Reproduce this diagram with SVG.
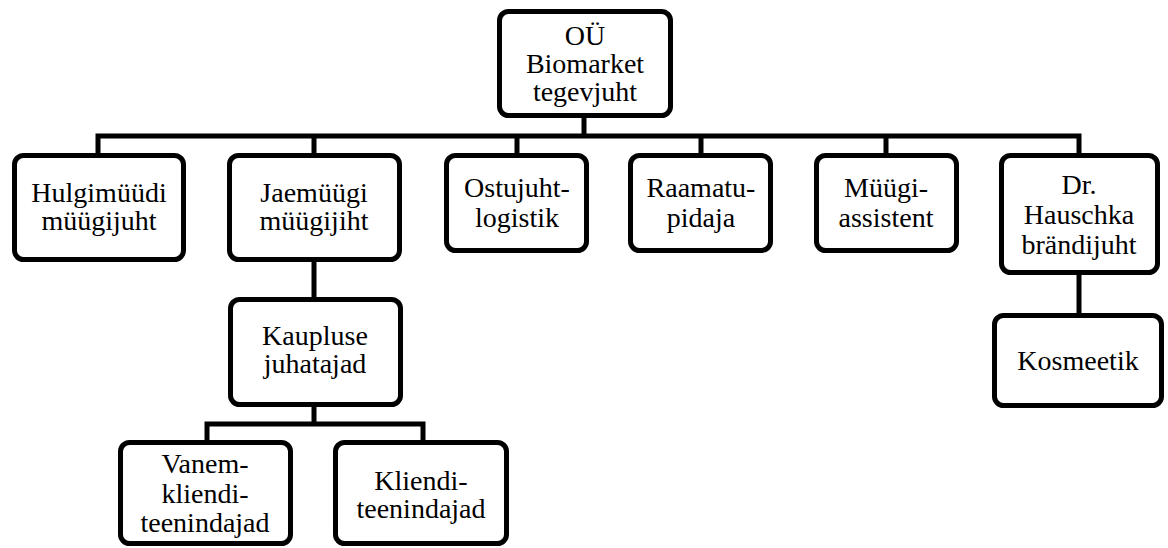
<svg xmlns="http://www.w3.org/2000/svg" width="1168" height="548" viewBox="0 0 1168 548">
<style>
.box{fill:#fff;stroke:#000;stroke-width:5}
.c{fill:none;stroke:#000;stroke-width:5;stroke-linejoin:miter;stroke-linecap:butt}
text{font-size:28px;fill:#000;text-anchor:middle}
</style>
<rect width="1168" height="548" fill="#fff"/>
<g id="connectors">
<path class="c" d="M584 118V136M98 155V136H1079V155M314 136V155M517 136V155M701 136V155M886 136V155"/>
<path class="c" d="M314 262V299"/>
<path class="c" d="M314 407V424M207 442V424H423V442"/>
<path class="c" d="M1079 275V315"/>
</g>
<g font-family="'Liberation Serif', 'Times New Roman', Times, 'DejaVu Serif', serif">
<g id="n-top"><rect class="box" x="499.5" y="11.5" width="171" height="104" rx="9"/>
<text x="585" y="45">OÜ</text><text x="585" y="73">Biomarket</text><text x="585" y="101">tegevjuht</text></g>
<g id="n-hulgi"><rect class="box" x="14.5" y="155.5" width="169" height="104" rx="9"/>
<text x="99" y="202">Hulgimüüdi</text><text x="99" y="230">müügijuht</text></g>
<g id="n-jae"><rect class="box" x="229.5" y="155.5" width="170" height="104" rx="9"/>
<text x="314" y="202">Jaemüügi</text><text x="314" y="230">müügijiht</text></g>
<g id="n-ostu"><rect class="box" x="446.5" y="155.5" width="140" height="95" rx="9"/>
<text x="517" y="197">Ostujuht-</text><text x="517" y="227">logistik</text></g>
<g id="n-raamatu"><rect class="box" x="630.5" y="155.5" width="140" height="95" rx="9"/>
<text x="701" y="197">Raamatu-</text><text x="701" y="227">pidaja</text></g>
<g id="n-myygi"><rect class="box" x="816.5" y="155.5" width="140" height="95" rx="9"/>
<text x="886" y="197">Müügi-</text><text x="886" y="227">assistent</text></g>
<g id="n-dr"><rect class="box" x="1001.5" y="155.5" width="156" height="117" rx="9"/>
<text x="1079" y="194">Dr.</text><text x="1079" y="224">Hauschka</text><text x="1079" y="254">brändijuht</text></g>
<g id="n-kosm"><rect class="box" x="994.5" y="315.5" width="167" height="90" rx="9"/>
<text x="1078" y="370">Kosmeetik</text></g>
<g id="n-kaup"><rect class="box" x="230.5" y="299.5" width="170" height="105" rx="9"/>
<text x="315" y="345">Kaupluse</text><text x="315" y="373">juhatajad</text></g>
<g id="n-vanem"><rect class="box" x="120.5" y="442.5" width="170" height="101" rx="9"/>
<text x="205" y="473">Vanem-</text><text x="205" y="503">kliendi-</text><text x="205" y="532">teenindajad</text></g>
<g id="n-kliendi"><rect class="box" x="335.5" y="442.5" width="171" height="101" rx="9"/>
<text x="421" y="490">Kliendi-</text><text x="421" y="518">teenindajad</text></g>
</g>
</svg>
